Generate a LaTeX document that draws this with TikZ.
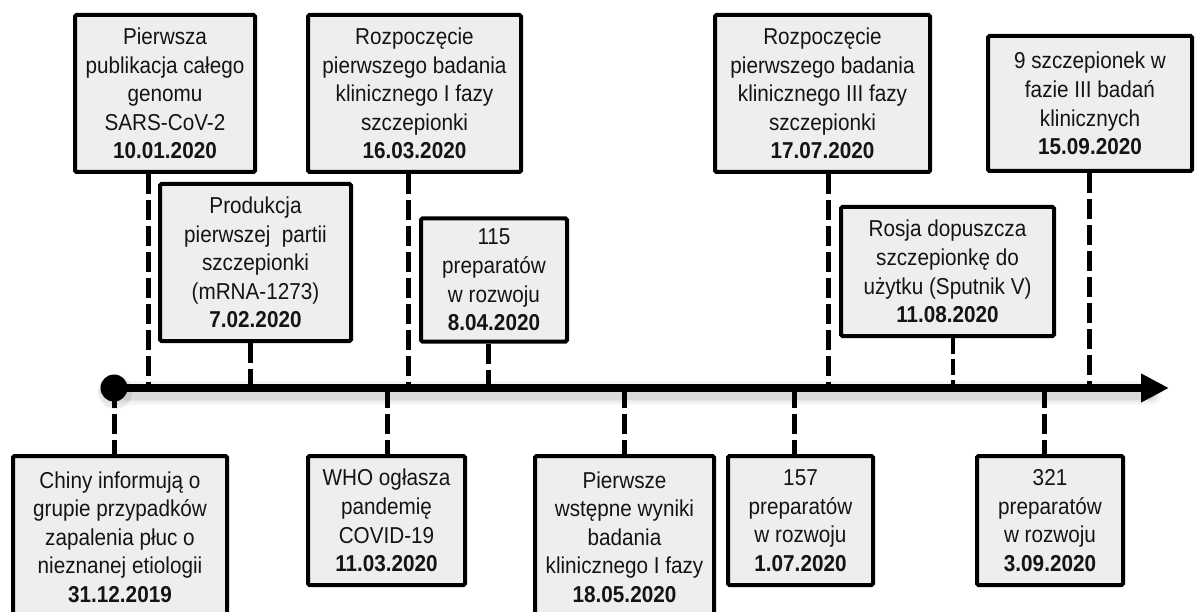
\documentclass[tikz,border=0pt]{standalone}
\usepackage{fontspec}
\setmainfont{Liberation Sans}[FakeStretch=0.9]
\usetikzlibrary{arrows.meta}
\definecolor{boxfill}{RGB}{238,238,238}
\definecolor{ink}{RGB}{20,20,20}
\tikzset{
  evbox/.style={draw=black, line width=4pt, fill=boxfill, rounded corners=1.5pt,
    inner sep=0pt, align=center, text=ink,
    font={\fontsize{23}{28.6}\selectfont}},
  conn/.style={draw=black, line width=5pt, dash pattern=on 20pt off 6pt},
  thinconn/.style={draw=black, line width=3.5pt, dash pattern=on 16pt off 5pt},
  axisline/.style={draw=black, line width=8pt, -{Triangle[length=28pt,width=27pt]}}
}
\begin{document}
\begin{tikzpicture}[x=1pt,y=-1pt]
\useasboundingbox (0,0) rectangle (1196,612);
\clip (0,0) rectangle (1196,612);
\fill[white] (0,0) rectangle (1196,612);

% axis coordinates
\coordinate (tip) at (1169,388);
\foreach \n/\x in {tA/148,tB/250,tC/408,tD/488,tE/828,tF/953,tG/1089,tH/114,tI/387,tJ/624,tK/794,tL/1044}
  \coordinate (\n) at (\x,388);

% boxes (top)
\node[evbox, minimum width=180pt, minimum height=157pt] (A) at (165,93.5)
  {Pierwsza\\publikacja całego\\genomu\\SARS-CoV-2\\\textbf{10.01.2020}};
\node[evbox, minimum width=191pt, minimum height=157pt] (B) at (255.5,262.5)
  {Produkcja\\pierwszej~ partii\\szczepionki\\(mRNA-1273)\\\textbf{7.02.2020}};
\node[evbox, minimum width=213pt, minimum height=157pt] (C) at (414.5,93.5)
  {Rozpoczęcie\\pierwszego badania\\klinicznego I fazy\\szczepionki\\\textbf{16.03.2020}};
\node[evbox, minimum width=146pt, minimum height=123pt] (D) at (494,280)
  {115\\preparatów\\w rozwoju\\\textbf{8.04.2020}};
\node[evbox, minimum width=215pt, minimum height=157pt] (E) at (822.5,93.5)
  {Rozpoczęcie\\pierwszego badania\\klinicznego III fazy\\szczepionki\\\textbf{17.07.2020}};
\node[evbox, minimum width=213pt, minimum height=129pt] (F) at (947.5,271.5)
  {Rosja dopuszcza\\szczepionkę do\\użytku (Sputnik V)\\\textbf{11.08.2020}};
\node[evbox, minimum width=204pt, minimum height=135pt] (G) at (1090,103.5)
  {9 szczepionek w\\fazie III badań\\klinicznych\\\textbf{15.09.2020}};

% boxes (bottom)
\node[evbox, minimum width=214pt, minimum height=162pt] (H) at (120,537)
  {Chiny informują o\\grupie przypadków\\zapalenia płuc o\\nieznanej etiologii\\\textbf{31.12.2019}};
\node[evbox, minimum width=157pt, minimum height=129pt] (I) at (386.5,520.5)
  {WHO ogłasza\\pandemię\\COVID-19\\\textbf{11.03.2020}};
\node[evbox, minimum width=179pt, minimum height=162pt] (J) at (624.5,537)
  {Pierwsze\\wstępne wyniki\\badania\\klinicznego I fazy\\\textbf{18.05.2020}};
\node[evbox, minimum width=145pt, minimum height=129pt] (K) at (800.5,520.5)
  {157\\preparatów\\w rozwoju\\\textbf{1.07.2020}};
\node[evbox, minimum width=146pt, minimum height=129pt] (L) at (1050,520.5)
  {321\\preparatów\\w rozwoju\\\textbf{3.09.2020}};

% connectors
\foreach \b/\t in {A/tA,B/tB,C/tC,D/tD,E/tE,G/tG}
  \draw[conn] (\t |- \b.south) -- (\t);
\draw[thinconn] (tF |- F.south) -- (tF);
\foreach \b/\t in {H/tH,I/tI,J/tJ,K/tK,L/tL}
  \draw[conn] (\t) -- (\t |- \b.north);

% soft shadow of axis
\foreach \w/\o in {24/0.04,18/0.05,13/0.06}
  \draw[line width=\w pt, black, opacity=\o, line cap=round] (112,393) -- (1150,393);
\fill[black, opacity=0.07] (115,392) circle (17pt);

% axis
\node[circle, fill=black, inner sep=0pt, minimum size=27pt] (origin) at (114,388) {};
\draw[axisline] (origin.center) -- (tip);
\end{tikzpicture}
\end{document}
